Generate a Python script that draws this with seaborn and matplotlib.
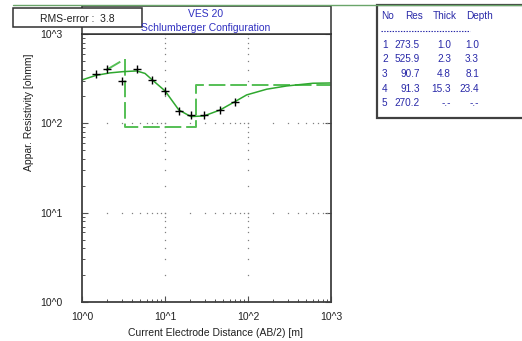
import numpy as np
import pandas as pd
import matplotlib
matplotlib.use("Agg")
import matplotlib.pyplot as plt
from matplotlib.patches import Rectangle
from matplotlib.lines import Line2D
from matplotlib.ticker import FixedLocator, FuncFormatter, LogLocator, NullFormatter
import seaborn as sns

# Field measurements: AB/2 spacing [m] and apparent resistivity [ohm m]
ab2_obs = [1.47, 1.98, 3.0, 4.56, 7.03, 10.0, 14.9, 20.4, 29.5, 46.0, 69.7]
rho_obs = [355, 404, 301, 404, 306, 231, 138, 124, 123, 142, 175]

# Calculated sounding curve of the fitted layer model
ab2_calc = [1.0, 1.47, 2.17, 3.12, 4.56, 5.74, 7.03, 10.0, 14.7, 20.5, 29.5,
            46.0, 69.6, 96.3, 168, 292, 606, 1000]
rho_calc = [306, 344, 367, 379, 386, 362, 306, 231, 141, 119, 121,
            141, 175, 208, 241, 262, 281, 283]

# Layer model
layer_no = [1, 2, 3, 4, 5]
layer_res = [273.5, 525.9, 90.7, 91.3, 270.2]
layer_thick = [1.0, 2.3, 4.8, 15.3, None]
layer_depth = [1.0, 3.3, 8.1, 23.4, None]

rms_error = 3.8
ves_name = "VES 20"
config_name = "Schlumberger Configuration"

W, H = 522, 341
sns.set_theme(style="white")
plt.rcParams["font.family"] = ["Liberation Sans", "DejaVu Sans"]
plt.rcParams["lines.scale_dashes"] = False

fig = plt.figure(figsize=(W / 100, H / 100), dpi=100)
fig.patch.set_facecolor("white")


def fx(px):
    return px / W


def fy(py):
    return 1 - py / H


ax = fig.add_axes([fx(82), fy(302), fx(331) - fx(82), fy(34) - fy(302)])
ax.set_facecolor("white")
ax.set_xscale("log")
ax.set_yscale("log")
ax.set_xlim(1, 1000)
ax.set_ylim(1, 1000)

# sparse dotted grid on the inner decades
minor_pos = np.array([m * 10.0 ** k for k in range(0, 3) for m in range(1, 10)] + [1000.0])
for g in [10, 100]:
    ax.plot(minor_pos, np.full_like(minor_pos, g), ls="none", marker="s",
            ms=0.9, color="#808080", mew=0)
    ax.plot(np.full_like(minor_pos, g), minor_pos, ls="none", marker="s",
            ms=0.9, color="#808080", mew=0)

# layer model: first transition drawn as a ramp, then vertical/horizontal steps
ramp = pd.DataFrame({"x": [layer_depth[0], layer_depth[1]],
                     "y": [layer_res[0], layer_res[1]]})
ax_n = len(ax.lines)
sns.lineplot(data=ramp, x="x", y="y", ax=ax, sort=False, estimator=None,
             color="#55bf55", lw=1.4)
for ln in ax.lines[ax_n:]:
    ln.set_linestyle((0, (0.01, 20, 12, 30)))

sx = [layer_depth[1], layer_depth[1], layer_depth[2], layer_depth[2],
      layer_depth[3], layer_depth[3], 1000]
sy = [layer_res[1], layer_res[2], layer_res[2], layer_res[3],
      layer_res[3], layer_res[4], layer_res[4]]
steps = pd.DataFrame({"x": sx, "y": sy})
ax_n = len(ax.lines)
sns.lineplot(data=steps, x="x", y="y", ax=ax, sort=False, estimator=None,
             color="#55bf55", lw=1.4)
for ln in ax.lines[ax_n:]:
    ln.set_linestyle((0, (12, 3.5)))

calc = pd.DataFrame({"x": ab2_calc, "y": rho_calc})
sns.lineplot(data=calc, x="x", y="y", ax=ax, sort=False, estimator=None,
             color="#2fa82f", lw=1.1)

obs = pd.DataFrame({"x": ab2_obs, "y": rho_obs})
sns.scatterplot(data=obs, x="x", y="y", ax=ax, marker="+", color="black",
                s=32, linewidth=1.0, zorder=5)

ax.xaxis.set_major_locator(FixedLocator([1, 10, 100, 1000]))
ax.yaxis.set_major_locator(FixedLocator([1, 10, 100, 1000]))
ax.xaxis.set_minor_locator(LogLocator(base=10, subs=np.arange(2, 10)))
ax.yaxis.set_minor_locator(LogLocator(base=10, subs=np.arange(2, 10)))
ax.xaxis.set_minor_formatter(NullFormatter())
ax.yaxis.set_minor_formatter(NullFormatter())
fmt = FuncFormatter(lambda v, p: "10^%d" % int(round(np.log10(v))))
ax.xaxis.set_major_formatter(fmt)
ax.yaxis.set_major_formatter(fmt)
ax.tick_params(which="both", direction="in", colors="#505050",
               labelcolor="#202020", labelsize=7.5, left=True, bottom=True, right=True)
ax.tick_params(which="major", length=4, width=0.8)
ax.tick_params(which="minor", length=2.5, width=0.7, right=False)
ax.tick_params(axis="y", pad=14)
ax.tick_params(axis="x", pad=7)
for s in ax.spines.values():
    s.set_color("#404040")
    s.set_linewidth(1.3)

ax.set_xlabel("Current Electrode Distance (AB/2) [m]", fontsize=7.5, color="#202020")
ax.set_ylabel("Appar. Resistivity [ohmm]", fontsize=7.5, color="#202020")
ax.xaxis.set_label_coords((215 - 82) / 249, -(328 - 302) / 268)
ax.yaxis.set_label_coords(-(82 - 34) / 249, (302 - 112) / 268)

# header box with sounding name
fig.patches.append(Rectangle((fx(82), fy(34)), fx(331) - fx(82), fy(6) - fy(34),
                             transform=fig.transFigure, fill=True, fc="white",
                             ec="#303030", lw=1.1))
fig.text(fx(206), fy(14), ves_name, ha="center", va="center", fontsize=7.5, color="#3030c0")
fig.text(fx(206), fy(28), config_name, ha="center", va="center", fontsize=7.5, color="#3030c0")

# green rule along the top
fig.add_artist(Line2D([fx(13), 1], [fy(5), fy(5)], transform=fig.transFigure,
                      color="#6aa56a", lw=1.0))

# RMS error box
fig.patches.append(Rectangle((fx(13), fy(27)), fx(142) - fx(13), fy(8) - fy(27),
                             transform=fig.transFigure, fill=True, fc="white",
                             ec="#303030", lw=1.1, zorder=3))
fig.text(fx(77), fy(19), "RMS-error :  %.1f" % rms_error, ha="center", va="center",
         fontsize=7.5, color="#202020", zorder=4)

# layer parameter table
fig.patches.append(Rectangle((fx(377), fy(118)), 1.02 - fx(377), fy(5) - fy(118),
                             transform=fig.transFigure, fill=True, fc="white",
                             ec="#404040", lw=1.6))
blue = "#2828a8"
fs = 7.2
fig.text(fx(381), fy(16), "No", fontsize=fs, color=blue, va="center")
fig.text(fx(405), fy(16), "Res", fontsize=fs, color=blue, va="center")
fig.text(fx(433), fy(16), "Thick", fontsize=fs, color=blue, va="center")
fig.text(fx(466), fy(16), "Depth", fontsize=fs, color=blue, va="center")
fig.add_artist(Line2D([fx(381), fx(470)], [fy(31), fy(31)], transform=fig.transFigure,
                      color=blue, lw=0.8, ls=(0, (1, 1))))
for i, (n, r, t, d) in enumerate(zip(layer_no, layer_res, layer_thick, layer_depth)):
    y = fy(45 + 14.5 * i)
    fig.text(fx(382), y, str(n), fontsize=fs, color=blue, va="center")
    fig.text(fx(420), y, "%.1f" % r, fontsize=fs, color=blue, va="center", ha="right")
    fig.text(fx(451), y, "%.1f" % t if t is not None else "-.-", fontsize=fs,
             color=blue, va="center", ha="right")
    fig.text(fx(479), y, "%.1f" % d if d is not None else "-.-", fontsize=fs,
             color=blue, va="center", ha="right")

fig.savefig("out.png", dpi=100, facecolor="white")
